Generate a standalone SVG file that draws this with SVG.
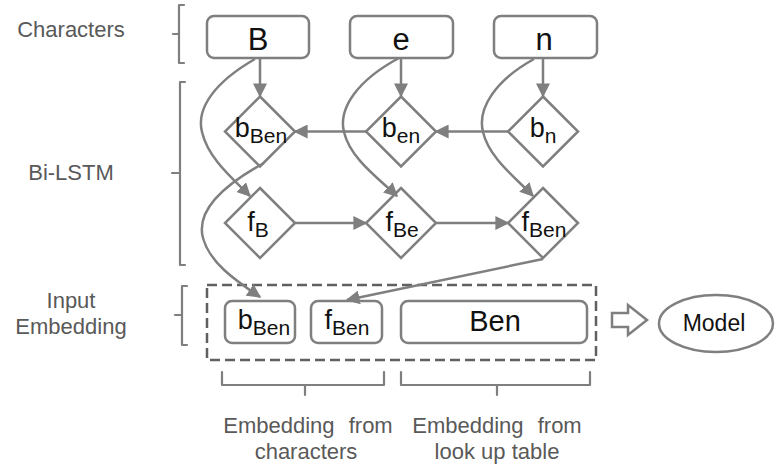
<svg xmlns="http://www.w3.org/2000/svg" width="777" height="467" viewBox="0 0 777 467">
<style>
.lbl{font-family:"Liberation Sans",Arial,sans-serif;font-size:22px;fill:#595959;text-anchor:middle}
.node{fill:#fff;stroke:#7f7f7f;stroke-width:2.5}
.ntxt{font-family:"Liberation Sans",Arial,sans-serif;fill:#111;text-anchor:middle}
.br{fill:none;stroke:#7f7f7f;stroke-width:2.2;stroke-linejoin:round;stroke-linecap:round}
.con{fill:none;stroke:#7f7f7f;stroke-width:2.5;marker-end:url(#ah)}
</style>
<defs>
<marker id="ah" viewBox="0 0 10 10" refX="9" refY="5" markerWidth="5.6" markerHeight="5.6" markerUnits="strokeWidth" orient="auto">
<path d="M0,0 L10,5 L0,10 z" fill="#7f7f7f"/>
</marker>
</defs>
<rect width="777" height="467" fill="#fff"/>

<g id="labels">
<text class="lbl" x="71" y="37">Characters</text>
<text class="lbl" x="71" y="180">Bi-LSTM</text>
<text class="lbl" x="71" y="308">Input</text>
<text class="lbl" x="71" y="334">Embedding</text>
<text class="lbl" x="308" y="433" font-size="23" word-spacing="8">Embedding from</text>
<text class="lbl" x="306" y="459" font-size="23">characters</text>
<text class="lbl" x="497" y="433" font-size="23" word-spacing="8">Embedding from</text>
<text class="lbl" x="497" y="459" font-size="23">look up table</text>
</g>

<g id="braces">
<path class="br" d="M184,5 H179 V63 H184 M173,34 H179"/>
<path class="br" d="M185,82 H180 V265 H185 M172,173 H180"/>
<path class="br" d="M187,286 H182 V345 H187 M175,315 H182"/>
<path class="br" d="M222,372 V385 H384 V372 M305,385 V395"/>
<path class="br" d="M401,372 V385 H590 V372 M497,385 V395"/>
</g>

<g id="char-B"><rect class="node" x="207" y="16" width="102" height="42" rx="7"/><text class="ntxt" x="258" y="50" font-size="31">B</text></g>
<g id="char-e"><rect class="node" x="350" y="16" width="103" height="42" rx="7"/><text class="ntxt" x="401" y="50" font-size="31">e</text></g>
<g id="char-n"><rect class="node" x="494" y="16" width="103" height="42" rx="7"/><text class="ntxt" x="544" y="50" font-size="31">n</text></g>

<g id="b-Ben"><path class="node" d="M260,96.5 L295,131.5 L260,166.5 L225,131.5 z"/><text class="ntxt" x="261" y="137" font-size="27">b<tspan dy="6" font-size="21">Ben</tspan></text></g>
<g id="b-en"><path class="node" d="M401,96.5 L436,131.5 L401,166.5 L366,131.5 z"/><text class="ntxt" x="401" y="137" font-size="27">b<tspan dy="6" font-size="21">en</tspan></text></g>
<g id="b-n"><path class="node" d="M543,96.5 L578,131.5 L543,166.5 L508,131.5 z"/><text class="ntxt" x="543" y="137" font-size="27">b<tspan dy="6" font-size="21">n</tspan></text></g>

<g id="f-B"><path class="node" d="M260,188 L295,223 L260,258 L225,223 z"/><text class="ntxt" x="258" y="231" font-size="27">f<tspan dy="6" font-size="21">B</tspan></text></g>
<g id="f-Be"><path class="node" d="M401,188 L436,223 L401,258 L366,223 z"/><text class="ntxt" x="402" y="231" font-size="27">f<tspan dy="6" font-size="21">Be</tspan></text></g>
<g id="f-Ben"><path class="node" d="M543,188 L578,223 L543,258 L508,223 z"/><text class="ntxt" x="544" y="231" font-size="27">f<tspan dy="6" font-size="21">Ben</tspan></text></g>

<g id="input-embedding">
<rect x="207" y="285" width="389" height="75" fill="none" stroke="#606060" stroke-width="2.5" stroke-dasharray="10,5"/>
</g>
<g id="emb-b"><rect class="node" x="225" y="301" width="70" height="42" rx="7"/><text class="ntxt" x="264" y="329" font-size="27">b<tspan dy="6" font-size="21">Ben</tspan></text></g>
<g id="emb-f"><rect class="node" x="311" y="301" width="71" height="42" rx="7"/><text class="ntxt" x="347" y="329" font-size="27">f<tspan dy="6" font-size="21">Ben</tspan></text></g>
<g id="emb-Ben"><rect class="node" x="401" y="301" width="186" height="42" rx="7"/><text class="ntxt" x="495" y="331" font-size="29">Ben</text></g>

<g id="to-model"><path d="M612,313 H628 V305 L647,320 L628,335 V327 H612 z" fill="#fff" stroke="#7f7f7f" stroke-width="2.5" stroke-linejoin="miter"/></g>
<g id="model"><ellipse class="node" cx="716" cy="323.5" rx="57" ry="28.5"/><text class="ntxt" x="714" y="331" font-size="23">Model</text></g>

<g id="connectors">
<path class="con" d="M260,58 V96"/>
<path class="con" d="M401,58 V96"/>
<path class="con" d="M543,58 V96"/>
<path class="con" d="M508,131.5 H436"/>
<path class="con" d="M366,131.5 H295"/>
<path class="con" d="M295,223 H366"/>
<path class="con" d="M436,223 H508"/>
<path class="con" d="M255,59 C215,82 196,108 202,132 C208,158 232,178 250,196"/>
<path class="con" d="M399,58 C358,80 338,108 344,132 C350,158 378,178 397,196"/>
<path class="con" d="M534,59 C496,80 477,108 483,132 C489,158 516,178 533,196"/>
<path class="con" d="M264,163 C222,186 196,212 203,238 C210,264 238,282 260,297"/>
<path class="con" d="M543,259 L347,300"/>
</g>
</svg>
